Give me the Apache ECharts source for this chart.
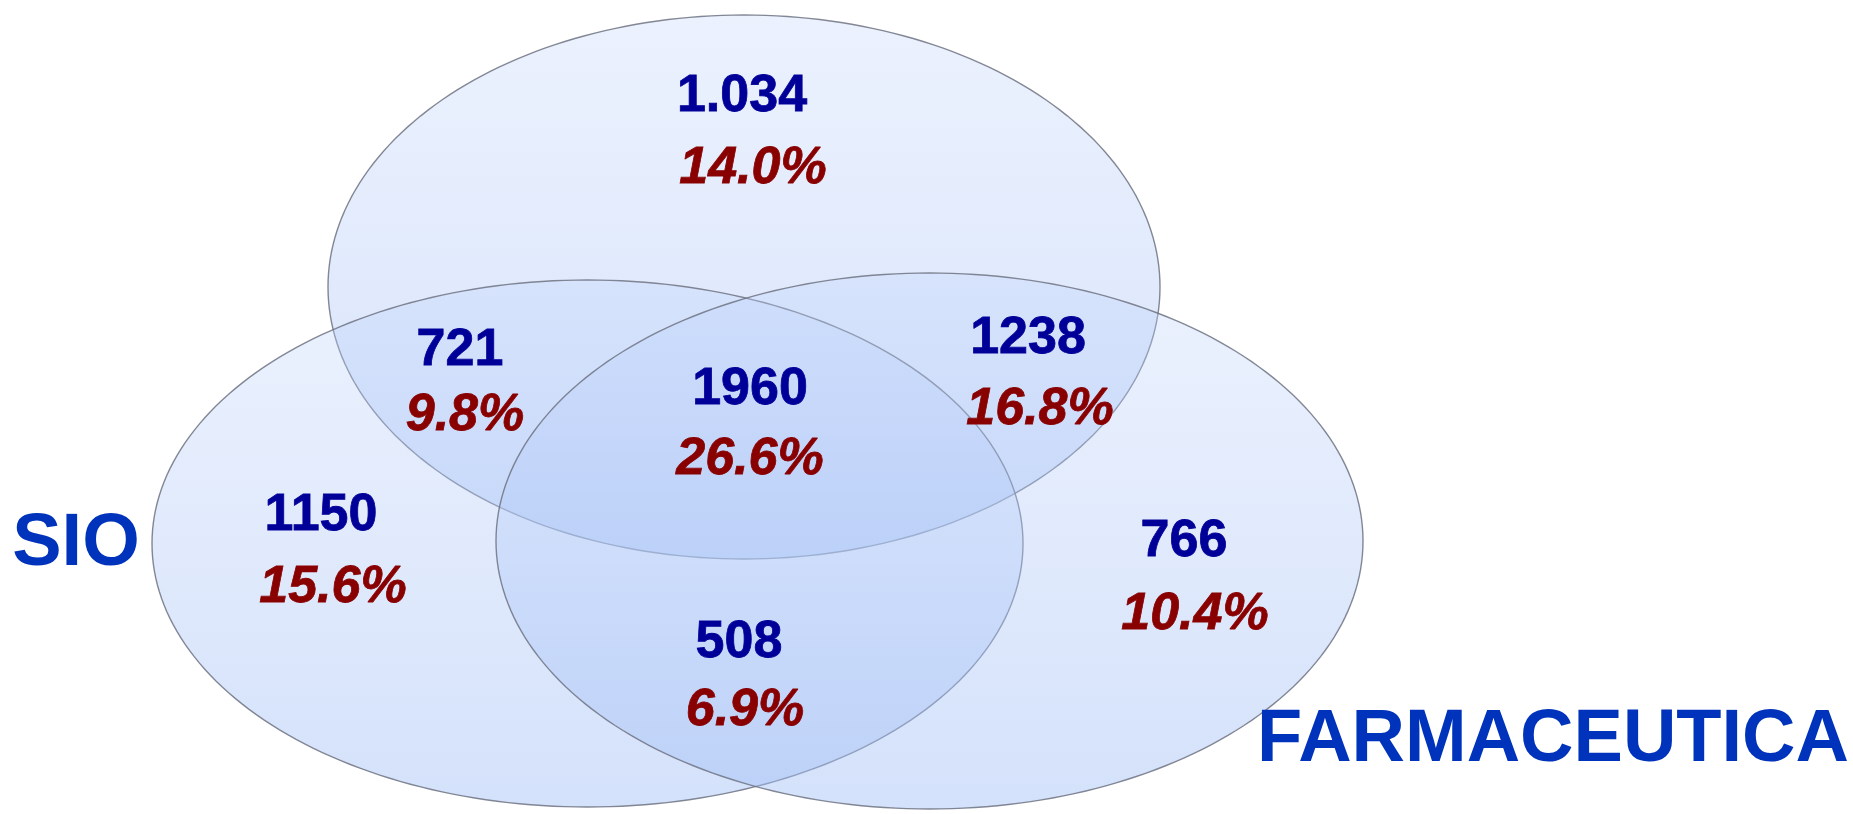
<!DOCTYPE html>
<html>
<head>
<meta charset="utf-8">
<script src="https://cdn.jsdelivr.net/npm/echarts@6/dist/echarts.min.js"></script>
<style>
html,body{margin:0;padding:0;background:#ffffff;}
#chart{width:1853px;height:814px;}
</style>
</head>
<body>
<div id="chart"></div>
<script>
// ---- DATA ----
const setNames = ['', 'SIO', 'FARMACEUTICA'];
const regionCounts = ['1.034', '721', '1960', '1238', '1150', '766', '508'];
const regionPercents = [14.0, 9.8, 26.6, 16.8, 15.6, 10.4, 6.9];

// ---- LAYOUT (plot units) ----
const ellipseGeom = [
  {cx: 744, cy: 287, rx: 416, ry: 272},
  {cx: 587.5, cy: 543.5, rx: 435.5, ry: 263.5},
  {cx: 929.5, cy: 541, rx: 433.5, ry: 268}
];
const countPos = [[742, 97], [460, 351], [750, 390], [1028, 339], [321, 516], [1184, 542], [739, 643]];
const pctPos = [[753, 169], [465, 416], [750, 460], [1040, 410], [333, 588], [1195, 615], [745, 711]];
const setLabelPos = [null, [76, 545], [1553, 741]];

const chart = echarts.init(document.getElementById('chart'), null, {renderer: 'canvas'});

const ellipseData = ellipseGeom.map((g, i) => [g.cx, g.cy, g.rx, g.ry, i]);

function renderEllipse(params, api) {
  const cx = api.value(0), cy = api.value(1), rx = api.value(2), ry = api.value(3);
  const pts = [];
  const N = 240;
  for (let k = 0; k < N; k++) {
    const t = 2 * Math.PI * k / N;
    pts.push(api.coord([cx + rx * Math.cos(t), cy + ry * Math.sin(t)]));
  }
  return {
    type: 'polygon',
    shape: {points: pts},
    style: {
      fill: new echarts.graphic.LinearGradient(0, 0, 0, 1, [
        {offset: 0, color: 'rgba(190,210,250,0.30)'},
        {offset: 1, color: 'rgba(160,190,245,0.46)'}
      ]),
      stroke: 'rgba(110,115,130,0.85)',
      lineWidth: 1.4
    }
  };
}

const countData = countPos.map((p, i) => ({value: p, label: {formatter: regionCounts[i]}}));
const pctData = pctPos.map((p, i) => ({value: p, label: {formatter: regionPercents[i].toFixed(1) + '%'}}));
const setData = [];
setNames.forEach((n, i) => { if (n && setLabelPos[i]) setData.push({value: setLabelPos[i], label: {formatter: n}}); });

const fam = '"Liberation Sans", Arial, Helvetica, sans-serif';

chart.setOption({
  animation: false,
  backgroundColor: '#ffffff',
  grid: {left: 0, right: 0, top: 0, bottom: 0},
  xAxis: {type: 'value', min: 0, max: 1853, show: false},
  yAxis: {type: 'value', min: 0, max: 814, inverse: true, show: false},
  series: [
    {
      type: 'custom',
      renderItem: renderEllipse,
      data: ellipseData,
      silent: true,
      z: 1
    },
    {
      type: 'scatter', symbolSize: 0, data: countData, silent: true, z: 5,
      itemStyle: {opacity: 1},
      label: {show: true, position: 'inside', color: '#000099', fontSize: 52, fontWeight: 'bold', fontFamily: fam,
        opacity: 1, textBorderColor: '#000099', textBorderWidth: 0.8}
    },
    {
      type: 'scatter', symbolSize: 0, data: pctData, silent: true, z: 5,
      itemStyle: {opacity: 1},
      label: {show: true, position: 'inside', color: '#880000', fontSize: 52, fontWeight: 'bold', fontStyle: 'italic', fontFamily: fam,
        opacity: 1, textBorderColor: '#880000', textBorderWidth: 0.8}
    },
    {
      type: 'scatter', symbolSize: 0, data: setData, silent: true, z: 5,
      itemStyle: {opacity: 1},
      label: {show: true, position: 'inside', color: '#0033BB', fontSize: 74, fontWeight: 'bold', fontFamily: fam, opacity: 1}
    }
  ]
});
</script>
</body>
</html>
